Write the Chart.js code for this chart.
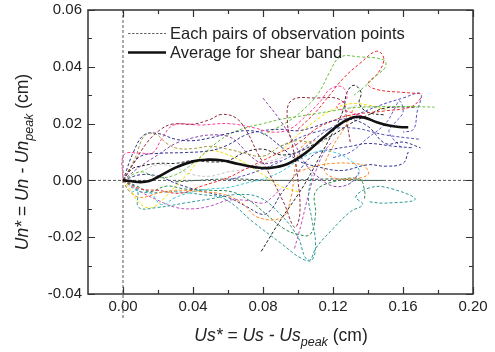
<!DOCTYPE html>
<html>
<head>
<meta charset="utf-8">
<script src="https://cdn.jsdelivr.net/npm/chart.js@4/dist/chart.umd.min.js"></script>
<style>
  html, body { margin: 0; padding: 0; background: #fff; }
  #wrap { width: 495px; height: 352px; }
</style>
</head>
<body>
<div id="wrap"><canvas id="shearChart"></canvas></div>
<script>
// shear band displacement chart

const xTicks = [0.00, 0.04, 0.08, 0.12, 0.16, 0.20];
const xTickLabels = ["0.00", "0.04", "0.08", "0.12", "0.16", "0.20"];
const xMinor = [0.02, 0.06, 0.10, 0.14, 0.18];
const yTicks = [-0.04, -0.02, 0.00, 0.02, 0.04, 0.06];
const yTickLabels = ["-0.04", "-0.02", "0.00", "0.02", "0.04", "0.06"];
const yMinor = [-0.03, -0.01, 0.01, 0.03, 0.05];

const legendLabels = ["Each pairs of observation points", "Average for shear band"];

// average curve
const averageBand = [[0,0],[0.005,-0.0003],[0.01,-0.0006],[0.015,-0.0002],[0.02,0.0012],[0.03,0.0045],[0.04,0.0067],[0.048,0.0073],[0.056,0.0071],[0.066,0.0058],[0.076,0.0046],[0.084,0.0044],[0.094,0.0058],[0.104,0.0095],[0.114,0.0148],[0.124,0.0198],[0.132,0.0222],[0.138,0.0221],[0.145,0.0205],[0.152,0.0193],[0.158,0.0188],[0.163,0.0187]];

// each pair of observation points
const pairMaroon = [[0,0],[0.006,0.006],[0.014,0.0135],[0.021,0.0177],[0.028,0.0198],[0.04,0.0198],[0.05,0.0215],[0.056,0.0232],[0.064,0.0222],[0.07,0.018],[0.077,0.0095],[0.083,0.003],[0.092,-0.008],[0.098,-0.0165],[0.101,-0.012],[0.1,0.0],[0.097,0.012],[0.094,0.02],[0.096,0.028],[0.11,0.029],[0.125,0.028],[0.128,0.02],[0.13,0.013]];
const pairPink = [[0,0],[0.0005,0.009],[0.01,0.0096],[0.017,0.0097],[0.022,0.0145],[0.029,0.0195],[0.045,0.0195],[0.06,0.02],[0.075,0.0185],[0.085,0.017],[0.095,0.018],[0.105,0.023],[0.113,0.028],[0.118,0.032],[0.125,0.033],[0.128,0.029],[0.122,0.026],[0.13,0.024],[0.14,0.022]];
const pairOlive = [[0,0],[0.007,0.008],[0.012,0.0155],[0.018,0.0165],[0.025,0.013],[0.031,0.0113],[0.04,0.0112],[0.05,0.012],[0.06,0.011],[0.07,0.0095],[0.08,0.0085],[0.09,0.012],[0.1,0.014],[0.11,0.0125]];
const pairNavyA = [[0,0],[0.004,0.004],[0.01,0.0085],[0.02,0.0095],[0.035,0.0098],[0.05,0.0105],[0.06,0.0125],[0.07,0.016],[0.08,0.0175],[0.09,0.018],[0.1,0.0175],[0.11,0.019],[0.12,0.021],[0.13,0.0215],[0.14,0.019],[0.15,0.013],[0.16,0.0135],[0.17,0.0115]];
const pairNavyB = [[0,0],[0.006,0.01],[0.012,0.016],[0.02,0.0165],[0.03,0.0145],[0.04,0.014],[0.05,0.015],[0.06,0.0165],[0.07,0.0175],[0.08,0.0165],[0.09,0.012],[0.1,0.007],[0.11,0.005],[0.125,0.0035],[0.14,0.0055],[0.15,0.005],[0.16,0.006],[0.163,0.01]];
const pairPurple = [[0,0],[0.01,0.005],[0.02,0.009],[0.03,0.013],[0.04,0.015],[0.05,0.016],[0.06,0.0155],[0.066,0.013],[0.072,0.009],[0.08,0.006],[0.09,0.007]];
const pairPurpleLine = [[0.08,0.029],[0.09,0.021],[0.098,0.013],[0.104,0.006],[0.11,0.002],[0.12,-0.002],[0.13,-0.001],[0.135,0.003]];
const pairGreen = [[0,0],[0.01,0.003],[0.02,0.001],[0.03,0.002],[0.04,0.006],[0.05,0.0115],[0.06,0.016],[0.07,0.0185],[0.08,0.02],[0.09,0.0215],[0.1,0.0225],[0.11,0.0235],[0.12,0.0245],[0.13,0.0255],[0.15,0.026],[0.165,0.026],[0.178,0.0258]];
const pairGreenTop = [[0.08,0.016],[0.095,0.021],[0.105,0.026],[0.112,0.031],[0.118,0.038],[0.124,0.0434],[0.135,0.0435],[0.149,0.0424],[0.15,0.04],[0.145,0.037],[0.138,0.033],[0.132,0.03]];
const pairRed = [[0,0],[0.01,-0.003],[0.02,-0.0035],[0.033,-0.0045],[0.045,-0.002],[0.06,0.001],[0.07,0.004],[0.08,0.007],[0.09,0.01],[0.1,0.013],[0.11,0.018],[0.12,0.021],[0.13,0.023],[0.15,0.0245],[0.165,0.026],[0.171,0.0295]];
const pairRedTop = [[0.1,0.018],[0.11,0.024],[0.118,0.03],[0.126,0.036],[0.135,0.041],[0.145,0.0455],[0.149,0.043],[0.146,0.038],[0.14,0.034],[0.145,0.032],[0.16,0.031],[0.171,0.0305]];
const pairBlue = [[0.06,0.0],[0.08,0.004],[0.1,0.01],[0.115,0.017],[0.13,0.022],[0.145,0.026],[0.16,0.029],[0.17,0.0305],[0.168,0.024],[0.166,0.018],[0.16,0.017]];
const pairBlueLine = [[0.09,0.012],[0.11,0.017],[0.13,0.0185],[0.15,0.016],[0.169,0.0145]];
const pairBlackRise = [[0.079,-0.025],[0.09,-0.014],[0.1,-0.005],[0.106,0.001],[0.113,0.009],[0.12,0.017],[0.126,0.025],[0.128,0.031],[0.132,0.0335],[0.136,0.031],[0.135,0.027],[0.14,0.024],[0.15,0.023]];
const pairBlack = [[0,0],[0.005,0.004],[0.01,0.005],[0.02,0.006],[0.03,0.006],[0.04,0.007],[0.05,0.0065],[0.06,0.007],[0.07,0.01],[0.08,0.011],[0.09,0.009],[0.1,0.01],[0.11,0.013],[0.12,0.016],[0.13,0.02],[0.14,0.023],[0.15,0.0255],[0.168,0.0258]];
const pairOrange = [[0,0],[0.004,-0.004],[0.01,-0.006],[0.02,-0.0045],[0.03,-0.0035],[0.045,-0.004],[0.058,-0.005],[0.068,-0.008],[0.077,-0.013],[0.091,-0.013],[0.096,-0.006],[0.098,0.003],[0.1,0.009],[0.104,0.013],[0.11,0.014]];
const pairOrangeLoop = [[0.1,0.003],[0.11,0.005],[0.12,0.006],[0.13,0.006],[0.138,0.005],[0.14,0.002],[0.13,0.0005],[0.12,0.001],[0.115,0.004],[0.12,0.012],[0.128,0.02],[0.132,0.026]];
const pairYellow = [[0,0],[0.004,-0.003],[0.008,-0.007],[0.013,-0.0095],[0.018,-0.0092],[0.024,-0.006],[0.03,-0.002],[0.038,0.003],[0.045,0.0085],[0.05,0.0105],[0.06,0.009],[0.07,0.006],[0.08,0.002],[0.09,-0.002],[0.1,-0.004]];
const pairYellowTop = [[0.09,0.01],[0.1,0.016],[0.11,0.021],[0.12,0.025],[0.13,0.027],[0.14,0.0265],[0.15,0.025]];
const pairCyan = [[0,0],[0.004,-0.004],[0.01,-0.003],[0.016,-0.0045],[0.022,-0.0085],[0.03,-0.006],[0.04,-0.004],[0.05,-0.003],[0.06,-0.0025],[0.07,-0.001],[0.08,0.0005],[0.09,0.003],[0.1,0.007],[0.11,0.01],[0.12,0.01],[0.13,0.007],[0.135,0.003],[0.13,-0.001]];
const pairTealA = [[0,0],[0.008,-0.003],[0.009,-0.0095],[0.02,-0.0095],[0.035,-0.008],[0.05,-0.0065],[0.065,-0.005],[0.078,-0.006],[0.09,-0.012],[0.1,-0.02],[0.104,-0.027],[0.107,-0.028],[0.11,-0.024],[0.12,-0.017],[0.13,-0.011],[0.137,-0.0085],[0.133,-0.0058],[0.14,-0.0028],[0.15,-0.0024],[0.167,-0.0066],[0.15,-0.008],[0.14,-0.0075]];
const pairTealB = [[0,0],[0.01,-0.004],[0.03,-0.004],[0.045,-0.005],[0.058,-0.0065],[0.075,-0.015],[0.09,-0.022],[0.102,-0.0275],[0.108,-0.028],[0.11,-0.022],[0.108,-0.014],[0.106,-0.006],[0.108,0.002]];
const pairViolet = [[0,0],[0.01,-0.004],[0.02,-0.007],[0.03,-0.0095],[0.04,-0.01],[0.05,-0.009],[0.06,-0.007],[0.07,-0.007],[0.08,-0.008],[0.085,-0.006],[0.09,-0.003]];
const pairVioletRise = [[0.098,-0.024],[0.102,-0.015],[0.106,-0.005],[0.11,0.003],[0.115,0.01],[0.12,0.014]];
const pairDarkGreen = [[0,0],[0.008,-0.002],[0.015,-0.004],[0.025,-0.002],[0.035,-0.003],[0.05,-0.0035],[0.062,-0.004],[0.072,-0.007],[0.082,-0.012],[0.092,-0.017],[0.1,-0.019],[0.107,-0.019],[0.11,-0.012],[0.11,-0.004],[0.12,-0.0005],[0.135,0.0005],[0.138,-0.0035],[0.138,-0.007]];
const pairGray = [[0.01,0.003],[0.02,0.0055],[0.03,0.0045],[0.04,0.002],[0.05,0.0015],[0.06,0.003],[0.07,0.004],[0.08,0.006],[0.1,0.01],[0.12,0.016],[0.13,0.0255],[0.14,0.026],[0.15,0.025]];
const pairSlate = [[0.03,-0.0005],[0.06,0.0005],[0.09,0.0],[0.12,0.0005],[0.14,0.0],[0.15,0.0]];
const pairNavyC = [[0,0],[0.01,0.002],[0.02,0.0015],[0.03,-0.001],[0.04,-0.003],[0.05,-0.0045],[0.06,-0.006],[0.07,-0.009],[0.08,-0.012],[0.085,-0.01],[0.09,-0.005],[0.1,0.003],[0.11,0.0095],[0.12,0.011],[0.13,0.012],[0.14,0.013],[0.155,0.012],[0.165,0.0115]];
const pairBlueLoop = [[0.12,0.008],[0.13,0.01],[0.14,0.015],[0.15,0.02],[0.155,0.025],[0.158,0.028],[0.16,0.024],[0.155,0.02],[0.152,0.017],[0.16,0.011]];

const pairSeries = [
  [pairMaroon, "#8c2a3a"], [pairPink, "#ff3d9a"], [pairOlive, "#9c9a3a"],
  [pairNavyA, "#33338a"], [pairNavyB, "#2e3192"], [pairPurple, "#8e44ad"],
  [pairPurpleLine, "#8e44ad"], [pairGreen, "#66c03a"], [pairGreenTop, "#66c03a"],
  [pairRed, "#ee2b2b"], [pairRedTop, "#ee2b2b"], [pairBlue, "#5050c0"],
  [pairBlueLine, "#5050b0"], [pairBlackRise, "#222222"], [pairBlack, "#222222"],
  [pairOrange, "#ff8a1e"], [pairOrangeLoop, "#ff8a1e"], [pairYellow, "#f2e000"],
  [pairYellowTop, "#f2e000"], [pairCyan, "#3cc8d8"], [pairTealA, "#2a9a96"],
  [pairTealB, "#2a9a96"], [pairViolet, "#c050c0"], [pairVioletRise, "#c050c0"],
  [pairDarkGreen, "#2a8a4a"], [pairGray, "#c8c8c8"], [pairSlate, "#2a5a4a"],
  [pairNavyC, "#3a3a9a"], [pairBlueLoop, "#5a5ad0"]
];

const toPoints = arr => arr.map(p => ({ x: p[0], y: p[1] }));

const datasets = [{
  label: legendLabels[1],
  data: toPoints(averageBand),
  borderColor: "#111",
  borderWidth: 2.6,
  pointRadius: 0,
  showLine: true,
  tension: 0.4
}];
pairSeries.forEach(([arr, color]) => {
  datasets.push({
    label: legendLabels[0],
    data: toPoints(arr),
    borderColor: color,
    borderWidth: 1,
    borderDash: [3, 2],
    pointRadius: 0,
    showLine: true,
    tension: 0.4
  });
});

const FONT = "'Liberation Sans', Arial, sans-serif";

// frame, inward ticks, zero lines, legend, axis titles
const decorPlugin = {
  id: "decor",
  beforeDatasetsDraw(chart) {
    const ctx = chart.ctx;
    const a = chart.chartArea;
    const xs = chart.scales.x, ys = chart.scales.y;
    const x0 = xs.getPixelForValue(0), y0 = ys.getPixelForValue(0);
    ctx.save();
    ctx.strokeStyle = "#555";
    ctx.lineWidth = 1;
    ctx.setLineDash([3, 2]);
    ctx.beginPath();
    ctx.moveTo(a.left, y0); ctx.lineTo(a.right, y0);
    ctx.moveTo(x0, a.top); ctx.lineTo(x0, 318);
    ctx.stroke();
    ctx.restore();
  },
  afterDatasetsDraw(chart) {
    const ctx = chart.ctx;
    const a = chart.chartArea;
    const xs = chart.scales.x, ys = chart.scales.y;
    ctx.save();
    ctx.strokeStyle = "#333";
    ctx.lineWidth = 1.5;
    ctx.strokeRect(a.left, a.top, a.right - a.left, a.bottom - a.top);

    ctx.lineWidth = 1.2;
    ctx.beginPath();
    const tickX = (v, len) => {
      const px = Math.round(xs.getPixelForValue(v)) + 0.5;
      ctx.moveTo(px, a.bottom); ctx.lineTo(px, a.bottom - len);
      ctx.moveTo(px, a.top); ctx.lineTo(px, a.top + len);
    };
    const tickY = (v, len) => {
      const py = Math.round(ys.getPixelForValue(v)) + 0.5;
      ctx.moveTo(a.left, py); ctx.lineTo(a.left + len, py);
      ctx.moveTo(a.right, py); ctx.lineTo(a.right - len, py);
    };
    xTicks.forEach(v => tickX(v, 7));
    xMinor.forEach(v => tickX(v, 4));
    yTicks.forEach(v => tickY(v, 7));
    yMinor.forEach(v => tickY(v, 4));
    ctx.stroke();

    // legend
    ctx.lineWidth = 1;
    ctx.strokeStyle = "#666";
    ctx.setLineDash([2.5, 1.5]);
    ctx.beginPath();
    ctx.moveTo(128, 33.5); ctx.lineTo(166, 33.5);
    ctx.stroke();
    ctx.setLineDash([]);
    ctx.strokeStyle = "#111";
    ctx.lineWidth = 2.6;
    ctx.beginPath();
    ctx.moveTo(128, 52.5); ctx.lineTo(166, 52.5);
    ctx.stroke();
    ctx.fillStyle = "#222";
    ctx.font = "16.5px " + FONT;
    ctx.textBaseline = "middle";
    ctx.textAlign = "left";
    ctx.fillText(legendLabels[0], 170, 34);
    ctx.fillText(legendLabels[1], 170, 53);

    // axis titles with subscripts
    const drawTitle = (parts, cx, cy, rotate) => {
      ctx.save();
      ctx.translate(cx, cy);
      if (rotate) ctx.rotate(-Math.PI / 2);
      let total = 0;
      parts.forEach(p => { ctx.font = p.font; total += ctx.measureText(p.t).width; });
      let x = -total / 2;
      ctx.textBaseline = "alphabetic";
      parts.forEach(p => {
        ctx.font = p.font;
        ctx.fillText(p.t, x, p.dy || 0);
        x += ctx.measureText(p.t).width;
      });
      ctx.restore();
    };
    const it = "italic 17.5px " + FONT, nm = "17.5px " + FONT, sub = "italic 12.5px " + FONT;
    drawTitle([{ t: "Us* = Us - Us", font: it }, { t: "peak", font: sub, dy: 5 }, { t: " (cm)", font: nm }], 281, 341, false);
    drawTitle([{ t: "Un* = Un - Un", font: it }, { t: "peak", font: sub, dy: 5 }, { t: " (cm)", font: nm }], 28, 162, true);
    ctx.restore();
  }
};

const config = {
  type: "scatter",
  data: { datasets },
  options: {
    responsive: false,
    animation: false,
    layout: { padding: { left: 0, top: 10, right: 22, bottom: 0 } },
    plugins: { legend: { display: false }, tooltip: { enabled: false } },
    scales: {
      x: {
        type: "linear",
        min: -0.02, max: 0.20,
        grid: { display: false, drawTicks: false },
        border: { display: false },
        afterBuildTicks: s => { s.ticks = xTicks.map(v => ({ value: v })); },
        afterFit: s => { s.height = 58; s.paddingLeft = 0; s.paddingRight = 0; },
        ticks: {
          padding: 4,
          color: "#222",
          font: { family: FONT, size: 15 },
          callback: (v, i) => xTickLabels[i]
        }
      },
      y: {
        type: "linear",
        min: -0.04, max: 0.06,
        grid: { display: false, drawTicks: false },
        border: { display: false },
        afterBuildTicks: s => { s.ticks = yTicks.map(v => ({ value: v })); },
        afterFit: s => { s.width = 88; s.paddingTop = 0; s.paddingBottom = 0; },
        ticks: {
          padding: 6,
          color: "#222",
          font: { family: FONT, size: 15 },
          callback: (v, i) => yTickLabels[i]
        }
      }
    }
  },
  plugins: [decorPlugin]
};

const canvas = document.getElementById("shearChart");
canvas.width = 495; canvas.height = 352;
new Chart(canvas.getContext("2d"), config);
</script>
</body>
</html>
